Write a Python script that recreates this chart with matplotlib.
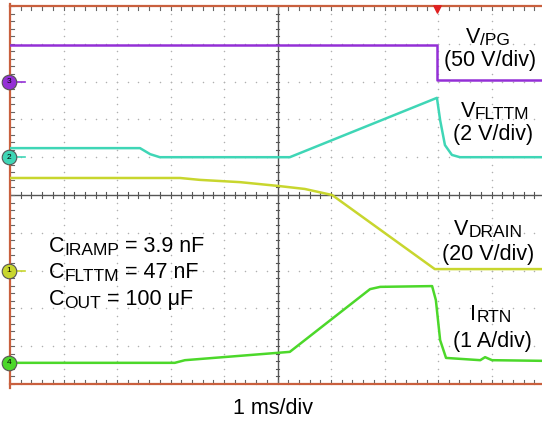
import numpy as np
import matplotlib
matplotlib.use('Agg')
import matplotlib.pyplot as plt

plt.rcParams['font.family'] = ['Liberation Sans', 'DejaVu Sans']

# 时间轴单位: 格 (1 ms/div), 幅值单位: 格
pg_t = [0, 7.98, 7.98, 10.1]
pg_v = [3.97, 3.97, 3.04, 3.04]

flttm_t = [0, 2.43, 2.62, 2.80, 5.23, 7.98, 8.04, 8.13, 8.26, 8.41, 10.1]
flttm_v = [1.24, 1.24, 1.08, 1.00, 1.00, 2.57, 1.98, 1.32, 1.06, 1.00, 1.00]

drain_t = [0, 3.18, 3.55, 4.30, 5.01, 5.51, 6.02, 7.94, 10.1]
drain_v = [0.45, 0.45, 0.40, 0.34, 0.24, 0.16, 0.0, -1.96, -1.96]

rtn_t = [0, 3.08, 3.27, 5.23, 6.73, 6.92, 7.89, 7.96, 8.04, 8.15, 8.79, 8.88, 9.01, 10.1]
rtn_v = [-4.44, -4.44, -4.37, -4.15, -2.49, -2.43, -2.41, -2.78, -3.84, -4.31, -4.37, -4.29, -4.37, -4.39]

# 通道标记 (编号, 位置, 颜色)
ch_nums = ['3', '2', '1', '4']
ch_levels = [3.0, 1.0, -2.0, -4.44]
ch_colors = ['#9430d6', '#3fd6b6', '#c8d62e', '#4cd82a']

W, H = 542, 423
fig = plt.figure(figsize=(W / 100, H / 100), dpi=100)
ax = fig.add_axes([10 / W, 39 / H, 535 / W, 378 / H])
ax.set_xlim(0, 10)
ax.set_ylim(-5, 5)
ax.axis('off')

# 点状网格
dot_c = '#b0b0b0'
for xi in range(1, 10):
    if xi == 5:
        continue
    ys = np.arange(-5, 5.01, 0.2)
    ax.scatter(np.full_like(ys, xi), ys, s=1.2, color=dot_c, lw=0, zorder=1)
for yi in range(-4, 5):
    if yi == 0:
        continue
    xs = np.arange(0, 10.01, 0.2)
    ax.scatter(xs, np.full_like(xs, yi), s=1.2, color=dot_c, lw=0, zorder=1)

# 中心十字线及刻度
ax.axhline(0, color='#555555', lw=1, zorder=2)
ax.axvline(5, color='#555555', lw=1, zorder=2)
for k in np.arange(0, 10.01, 0.2):
    ax.plot([k, k], [-0.08, 0.08], color='#555555', lw=0.8, zorder=2)
for k in np.arange(-5, 5.01, 0.2):
    ax.plot([4.97, 5.03], [k, k], color='#555555', lw=0.8, zorder=2)

# 边框 (上, 下, 左)
bc = '#c9603e'
tc = '#666666'
for k in np.arange(0, 10.01, 0.2):
    ax.plot([k, k], [5, 4.9], color=tc, lw=0.8, zorder=2, clip_on=False)
    ax.plot([k, k], [-5, -4.9], color=tc, lw=0.8, zorder=2, clip_on=False)
for k in np.arange(-5, 5.01, 0.2):
    ax.plot([0, 0.07], [k, k], color=tc, lw=0.8, zorder=2, clip_on=False)
ax.plot([0, 10.2], [5, 5], color=bc, lw=1.6, zorder=3, clip_on=False)
ax.plot([0, 10.2], [-5, -5], color=bc, lw=1.6, zorder=3, clip_on=False)
ax.plot([0, 0], [-5.1, 5.05], color=bc, lw=1.6, zorder=3, clip_on=False)

# 触发标记
ax.scatter([7.98], [4.93], marker='v', s=28, color='#e02020', zorder=6, clip_on=False)

# 波形
ax.plot(pg_t, pg_v, color=ch_colors[0], lw=1.8, zorder=4)
ax.plot(flttm_t, flttm_v, color=ch_colors[1], lw=1.8, zorder=4)
ax.plot(drain_t, drain_v, color=ch_colors[2], lw=1.8, zorder=4)
ax.plot(rtn_t, rtn_v, color=ch_colors[3], lw=1.8, zorder=4)

# 通道标记圆圈
for num, lv, c in zip(ch_nums, ch_levels, ch_colors):
    ax.plot([0.1, 0.28], [lv, lv], color=c, lw=1.2, zorder=5, clip_on=False)
    ax.scatter([-0.02], [lv], s=110, color=c, edgecolors='#555555', linewidths=0.8,
               zorder=6, clip_on=False)
    ax.text(-0.02, lv, num, fontsize=6, ha='center', va='center', zorder=7)

renderer = fig.canvas.get_renderer()


def rich(x, y, parts, ha='center'):
    """按像素位置画带下标的文字: parts = [(文字, 字号, 下移像素)]"""
    texts = []
    widths = []
    for s, size, dy in parts:
        t = fig.text(0, 0, s, fontsize=size, va='baseline', ha='left', zorder=9)
        widths.append(t.get_window_extent(renderer).width)
        texts.append((t, dy))
    total = sum(widths)
    x0 = x - total / 2 if ha == 'center' else x
    for (t, dy), w in zip(texts, widths):
        t.set_position((x0 / W, 1 - (y + dy) / H))
        x0 += w


def div_label(x, y, s):
    fig.text(x / W, 1 - y / H, s, fontsize=main_fs, ha='center', va='baseline', zorder=8,
             bbox=dict(fc='white', ec='none', pad=1))


main_fs = 15.5
sub_fs = 12.5
div_label(490, 66, '(50 V/div)')
rich(488, 43, [('V', main_fs, 0), ('/PG', sub_fs, 2)])
div_label(493, 140, '(2 V/div)')
rich(495, 117, [('V', main_fs, 0), ('FLTTM', sub_fs, 2)])
div_label(488, 260, '(20 V/div)')
rich(488, 235, [('V', main_fs, 0), ('DRAIN', sub_fs, 2)])
div_label(492, 347, '(1 A/div)')
rich(491, 320, [('I', main_fs, 0), ('RTN', sub_fs, 2)])

rich(49, 252, [('C', main_fs, 0), ('IRAMP', sub_fs, 3), (' = 3.9 nF', main_fs, 0)], ha='left')
rich(49, 278, [('C', main_fs, 0), ('FLTTM', sub_fs, 3), (' = 47 nF', main_fs, 0)], ha='left')
rich(49, 305, [('C', main_fs, 0), ('OUT', sub_fs, 3), (' = 100 μF', main_fs, 0)], ha='left')

fig.text(273 / W, 1 - 408 / H, '1 ms/div', fontsize=main_fs, ha='center', va='center')

fig.savefig('out.png', dpi=100, facecolor='white')
